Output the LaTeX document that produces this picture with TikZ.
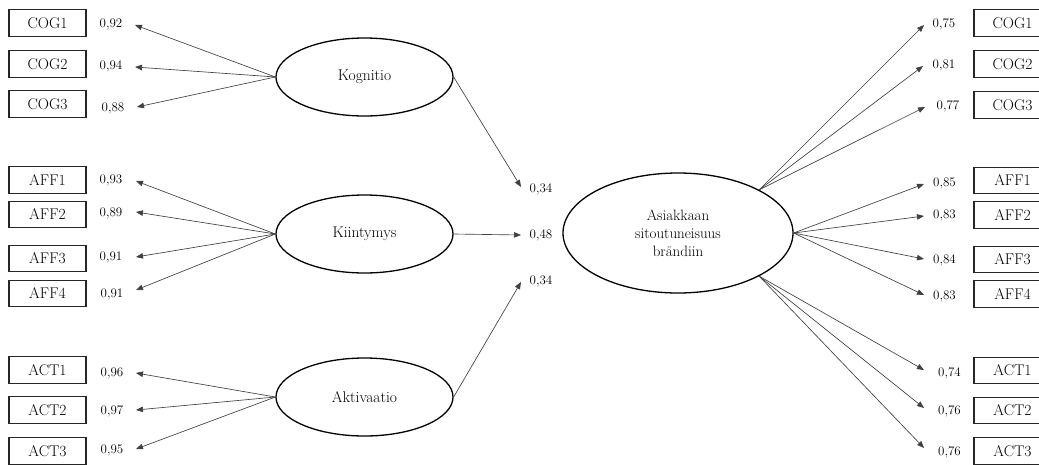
\documentclass[tikz,border=0pt]{standalone}
\usepackage{fontspec}
\usetikzlibrary{arrows.meta,shapes.geometric}
\tikzset{
  ind/.style={draw=black!85, line width=1.2pt, minimum width=77pt, minimum height=26.5pt,
    inner sep=0pt, font=\fontsize{15.5}{17}\selectfont},
  val/.style={inner sep=0pt, font=\fontsize{13}{15}\selectfont},
  latent/.style={ellipse, draw=black, line width=1.3pt, inner sep=0pt,
    minimum width=177pt, minimum height=78pt, font=\fontsize{15.5}{18}\selectfont},
  arr/.style={draw=black!75, line width=0.65pt, -{Triangle[length=7pt,width=5.5pt]}, black!75},
}
\begin{document}
\begin{tikzpicture}[x=1pt, y=-1pt]
\useasboundingbox (0,0) rectangle (1039,464);
\clip (0,0) rectangle (1039,464);
\fill[white] (0,0) rectangle (1039,464);

% latent factors
\node[latent] (kog)  at (364.5,77)  {Kognitio};
\node[latent] (kiin) at (364.5,234) {Kiintymys};
\node[latent] (akt)  at (364.5,397) {Aktivaatio};
\node[latent, minimum width=230pt, minimum height=120pt, align=center,
      font=\fontsize{15}{18}\selectfont] (big) at (678,233)
  {Asiakkaan\\sitoutuneisuus\\brändiin};

% first-order indicators
\foreach \nm/\txt/\by/\lab/\lx/\ly/\tx/\ty/\src in {
  c1/COG1/23/{0,92}/111/24/135/25/kog,
  c2/COG2/64/{0,94}/111/66/135/67/kog,
  c3/COG3/104/{0,88}/113/108/137/107/kog,
  a1/AFF1/180/{0,93}/111/180/136/181/kiin,
  a2/AFF2/214.5/{0,89}/111/213/136/212/kiin,
  a3/AFF3/258.5/{0,91}/111/257/136/257/kiin,
  a4/AFF4/293.5/{0,91}/112/294/136/290/kiin,
  t1/ACT1/370/{0,96}/112/373/136/373/akt,
  t2/ACT2/410/{0,97}/112/411/136/410/akt,
  t3/ACT3/451/{0,95}/112/450/136/449/akt}
{
  \node[ind] (L\nm) at (47.5,\by) {\txt};
  \node[val] (vL\nm) at (\lx,\ly) {\lab};
  \coordinate (tL\nm) at (\tx,\ty);
  \draw[arr] (\src.west) -- (tL\nm);
}

% paths into the second-order factor
\node[val] (p1) at (541,189) {0,34};
\node[val] (p2) at (541,235) {0,48};
\node[val] (p3) at (541,281) {0,34};
\coordinate (tp1) at (521,187);
\coordinate (tp2) at (521,235);
\coordinate (tp3) at (521,282);
\draw[arr] (kog.east)  -- (tp1);
\draw[arr] (kiin.east) -- (tp2);
\draw[arr] (akt.east)  -- (tp3);

% second-order indicators
\foreach \nm/\txt/\by/\lab/\lx/\ly/\tx/\ty/\src in {
  c1/COG1/23/{0,75}/944/24/924/25/big.28,
  c2/COG2/64/{0,81}/944/65/923/66/big.28,
  c3/COG3/105/{0,77}/948/106/925/107/big.28,
  a1/AFF1/180.5/{0,85}/944.5/183/924/184/big.east,
  a2/AFF2/215/{0,83}/944.5/215/924/216/big.east,
  a3/AFF3/259.5/{0,84}/944.5/260/924/259/big.east,
  a4/AFF4/294/{0,83}/944.5/296/924/295/big.east,
  t1/ACT1/370.5/{0,74}/949.5/373/924/370/big.-28,
  t2/ACT2/410.5/{0,76}/949.5/411/924/408/big.-28,
  t3/ACT3/451/{0,76}/949.5/452/924/448/big.-28}
{
  \node[ind] (R\nm) at (1012.5,\by) {\txt};
  \node[val] (vR\nm) at (\lx,\ly) {\lab};
  \coordinate (tR\nm) at (\tx,\ty);
  \draw[arr] (\src) -- (tR\nm);
}
\end{tikzpicture}
\end{document}
